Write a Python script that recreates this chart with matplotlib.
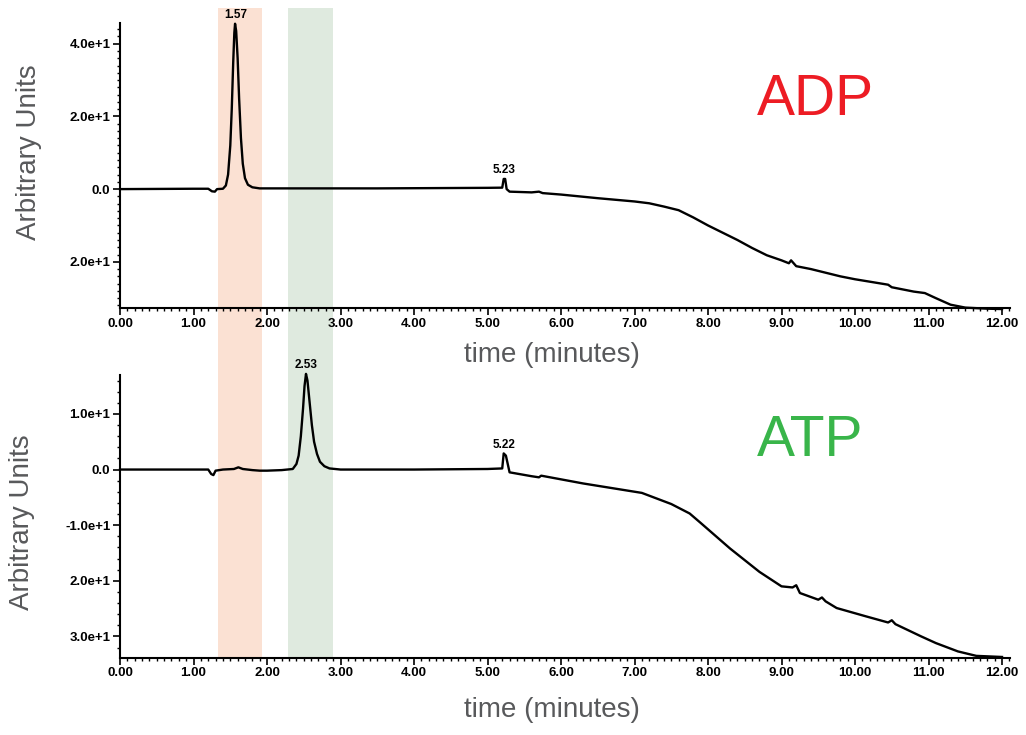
import matplotlib
matplotlib.use("Agg")
import matplotlib.pyplot as plt
from matplotlib.ticker import FixedLocator, MultipleLocator

plt.rcParams['font.family'] = ['Liberation Sans', 'DejaVu Sans']

# ADP run (top trace)
adp_t = [0.0, 0.5, 1.0, 1.2, 1.25, 1.29, 1.32, 1.40, 1.44, 1.47, 1.50, 1.52, 1.54, 1.555,
         1.565, 1.58, 1.60, 1.62, 1.645, 1.67, 1.70, 1.74, 1.80, 1.9, 2.5, 3.5, 4.5, 5.0,
         5.20, 5.22, 5.24, 5.26, 5.30, 5.6, 5.7, 5.75, 6.0, 6.5, 7.0, 7.2, 7.4, 7.6, 7.8,
         8.0, 8.2, 8.4, 8.6, 8.8, 9.0, 9.1, 9.13, 9.2, 9.4, 9.6, 9.8, 10.0, 10.3, 10.45,
         10.5, 10.8, 10.95, 11.1, 11.3, 11.5, 11.8, 12.0]
adp_y = [0.0, 0.05, 0.1, 0.1, -0.6, -0.7, 0.0, 0.1, 1.0, 4, 12, 22, 35, 43,
         45.5, 43.5, 36, 25, 14, 7, 3, 1.2, 0.5, 0.2, 0.2, 0.2, 0.3, 0.35,
         0.4, 2.8, 2.8, 0.0, -0.7, -0.9, -0.7, -1.1, -1.5, -2.5, -3.4, -3.9, -4.8, -5.8, -7.8,
         -10.0, -12.0, -14.0, -16.2, -18.2, -19.6, -20.4, -19.6, -21.2, -22.0, -23.0, -24.0, -24.8, -25.8, -26.3,
         -27.0, -28.2, -28.6, -30.0, -31.8, -32.6, -32.9, -33.0]

# ATP run (bottom trace)
atp_t = [0.0, 0.5, 1.0, 1.2, 1.24, 1.27, 1.30, 1.40, 1.55, 1.61, 1.67, 1.8, 1.9, 2.0,
         2.2, 2.35, 2.40, 2.43, 2.46, 2.49, 2.51, 2.53, 2.55, 2.58, 2.61, 2.64, 2.68, 2.72,
         2.78, 2.85, 3.0, 4.0, 5.0, 5.20, 5.22, 5.25, 5.30, 5.6, 5.7, 5.73, 6.3, 7.1, 7.5,
         7.75, 7.9, 8.3, 8.7, 9.0, 9.15, 9.2, 9.25, 9.5, 9.55, 9.6, 9.75, 10.15, 10.45, 10.5,
         10.55, 10.9, 11.1, 11.4, 11.65, 12.0]
atp_y = [0.0, 0.0, 0.0, 0.0, -0.8, -1.0, -0.2, 0.0, 0.1, 0.4, 0.1, -0.1, -0.2, -0.2,
         -0.1, 0.1, 1.0, 2.5, 6, 11, 15, 17.2, 16, 12, 8, 5, 2.8, 1.4,
         0.6, 0.2, 0.0, 0.0, 0.1, 0.2, 2.9, 2.5, -0.5, -1.2, -1.4, -1.1, -2.5, -4.2, -6.2,
         -7.9, -9.6, -14.2, -18.4, -21.0, -21.2, -20.8, -22.2, -23.4, -23.0, -23.7, -24.9, -26.4, -27.5, -27.1,
         -27.8, -30.0, -31.2, -32.7, -33.5, -33.7]

adp_peaks = [(1.57, 45.5, "1.57"), (5.23, 2.8, "5.23")]
atp_peaks = [(2.53, 17.2, "2.53"), (5.22, 2.9, "5.22")]

adp_ticks = [40, 20, 0, -20]
adp_ticklabels = ["4.0e+1", "2.0e+1", "0.0", "2.0e+1"]
atp_ticks = [10, 0, -10, -20, -30]
atp_ticklabels = ["1.0e+1", "0.0", "-1.0e+1", "2.0e+1", "3.0e+1"]
x_ticks = list(range(0, 13))

adp_band = (1.333, 1.932)
atp_band = (2.286, 2.898)
orange = "#fbe1d3"
green = "#dfeadf"

fig = plt.figure(figsize=(10.26, 7.35), dpi=100)
ax1 = fig.add_axes([0.1170, 0.5810, 0.8675, 0.3882])
ax2 = fig.add_axes([0.1170, 0.1054, 0.8675, 0.3844])


def style(ax, ticks, ticklabels, ylim):
    ax.set_facecolor("none")
    ax.set_xlim(0, 12.11)
    ax.set_ylim(*ylim)
    for s in ["top", "right"]:
        ax.spines[s].set_visible(False)
    for s in ["left", "bottom"]:
        ax.spines[s].set_linewidth(1.5)
    ax.xaxis.set_major_locator(FixedLocator(x_ticks))
    ax.set_xticklabels(["%.2f" % v for v in x_ticks])
    ax.xaxis.set_minor_locator(MultipleLocator(0.1))
    ax.yaxis.set_major_locator(FixedLocator(ticks))
    ax.set_yticklabels(ticklabels)
    ax.yaxis.set_minor_locator(MultipleLocator(2))
    ax.tick_params(which="major", length=5, width=1.2, pad=2, labelsize=9.5)
    ax.tick_params(which="minor", length=2.5, width=1.0)
    for lab in ax.get_xticklabels() + ax.get_yticklabels():
        lab.set_fontweight("bold")


style(ax1, adp_ticks, adp_ticklabels, (-32.7, 45.8))
style(ax2, atp_ticks, atp_ticklabels, (-33.8, 17.0))

# shaded bands run through both panels
for band, col in [(adp_band, orange), (atp_band, green)]:
    ax1.axvspan(band[0], band[1], ymin=-0.235, ymax=1.05, color=col, lw=0, clip_on=False, zorder=0)
    ax2.axvspan(band[0], band[1], ymin=0, ymax=1, color=col, lw=0, zorder=0)

ax1.plot(adp_t, adp_y, color="black", lw=1.7, zorder=3, clip_on=False)
ax2.plot(atp_t, atp_y, color="black", lw=1.7, zorder=3, clip_on=False)

for ax, peaks in [(ax1, adp_peaks), (ax2, atp_peaks)]:
    for t, y, lab in peaks:
        ax.annotate(lab, (t, y), xytext=(0, 2), textcoords="offset points",
                    ha="center", va="bottom", fontsize=8.5, fontweight="bold",
                    annotation_clip=False)

grey = "#58595b"
for ax in [ax1, ax2]:
    ax.set_ylabel("Arbitrary Units", fontsize=20, color=grey)
    ax.set_xlabel("time (minutes)", fontsize=20, color=grey)
ax1.yaxis.set_label_coords(-0.088, 0.545)
ax2.yaxis.set_label_coords(-0.0955, 0.478)
ax1.xaxis.set_label_coords(0.485, -0.118)
ax2.xaxis.set_label_coords(0.485, -0.14)

ax1.text(0.716, 0.675, "ADP", transform=ax1.transAxes, fontsize=41, color="#ed1c24", va="baseline")
ax2.text(0.716, 0.712, "ATP", transform=ax2.transAxes, fontsize=41, color="#39b54a", va="baseline")

fig.savefig("out.png", dpi=100)
